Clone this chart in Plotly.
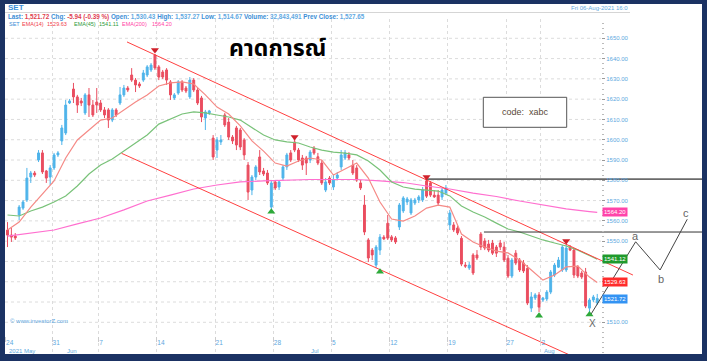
import plotly.graph_objects as go

# ---------------- data ----------------
bars = list(range(153))
open_ = [1555.5,1553.0,1552.5,1562.9,1566.3,1570.3,1581.6,1583.6,1590.0,1593.5,
         1584.6,1581.6,1586.1,1592.5,1599.4,1603.3,1618.1,1625.0,1621.1,1619.1,
         1613.2,1622.1,1617.1,1618.6,1618.1,1614.7,1614.7,1609.7,1614.7,1618.1,
         1622.1,1625.5,1631.9,1629.4,1627.5,1629.4,1631.9,1634.4,1641.8,1635.9,
         1633.4,1634.4,1628.5,1620.6,1623.0,1628.5,1625.5,1621.1,1629.4,1624.5,
         1620.6,1610.7,1613.2,1600.8,1594.9,1598.9,1612.2,1608.7,1601.3,1605.8,
         1604.8,1599.9,1587.5,1575.2,1581.6,1591.5,1584.6,1583.6,1566.8,1579.2,
         1576.7,1581.1,1586.6,1593.5,1598.9,1594.9,1591.0,1591.0,1590.0,1595.8,
         1591.6,1588.5,1575.2,1581.1,1576.7,1581.1,1586.6,1591.0,1592.5,1587.5,
         1586.1,1578.7,1567.8,1550.6,1545.6,1538.2,1545.6,1552.0,1558.8,1552.1,
         1551.6,1557.0,1564.9,1569.3,1563.9,1568.8,1570.3,1570.3,1579.7,1578.7,
         1572.7,1572.7,1571.8,1573.7,1558.0,1558.0,1556.5,1551.4,1538.2,1536.8,
         1543.2,1543.2,1553.5,1550.1,1548.6,1549.1,1547.1,1549.1,1547.1,1541.6,
         1532.8,1544.1,1540.7,1539.2,1536.6,1517.0,1522.0,1523.5,1521.0,1521.5,
         1524.9,1533.3,1537.2,1535.8,1535.8,1547.1,1545.6,1537.3,1534.3,1534.8,
         1517.0,1521.0,1519.5]
high = [1559.4,1556.5,1554.0,1567.8,1570.3,1586.1,1584.6,1584.6,1594.9,1594.9,
        1585.1,1587.5,1593.5,1594.4,1607.3,1619.6,1620.1,1628.0,1622.1,1620.6,
        1623.0,1625.5,1619.6,1625.5,1619.6,1616.1,1615.6,1615.6,1615.6,1626.0,
        1627.0,1626.5,1635.3,1630.4,1628.5,1634.4,1636.8,1637.8,1642.3,1636.8,
        1634.4,1635.3,1629.4,1623.0,1629.4,1629.4,1626.5,1630.9,1630.4,1625.5,
        1621.6,1614.7,1614.7,1602.3,1601.3,1602.3,1613.2,1610.7,1602.3,1606.8,
        1605.8,1600.8,1589.0,1582.6,1587.5,1594.9,1586.1,1585.1,1580.1,1580.1,
        1580.1,1587.5,1593.5,1594.9,1599.9,1595.9,1592.5,1592.0,1594.9,1596.9,
        1593.5,1590.0,1581.1,1582.1,1582.6,1584.1,1594.9,1594.9,1593.9,1590.0,
        1587.5,1580.1,1572.7,1551.5,1546.6,1548.1,1553.5,1553.0,1562.9,1553.0,
        1552.5,1568.8,1572.2,1571.8,1571.3,1571.3,1572.7,1576.7,1580.6,1579.7,
        1575.2,1575.2,1576.2,1577.7,1565.4,1559.4,1557.5,1552.5,1539.7,1539.7,
        1544.1,1545.6,1554.5,1551.5,1550.6,1550.6,1548.1,1550.6,1549.6,1543.2,
        1541.7,1545.6,1541.7,1540.7,1538.2,1524.9,1524.4,1524.9,1522.5,1525.9,
        1535.8,1539.2,1542.2,1548.1,1549.1,1548.1,1546.6,1538.2,1535.3,1536.8,
        1521.9,1523.5,1524.0]
low = [1547.1,1549.6,1550.6,1560.4,1565.4,1569.3,1578.7,1581.6,1589.0,1583.1,
       1578.7,1577.7,1585.1,1591.5,1597.4,1602.3,1617.6,1618.1,1613.2,1616.6,
       1612.2,1611.2,1611.2,1613.2,1613.7,1610.7,1605.8,1608.7,1611.2,1617.1,
       1621.1,1623.5,1628.5,1623.5,1625.5,1628.5,1630.9,1633.4,1634.4,1629.4,
       1629.9,1627.0,1619.6,1619.6,1622.1,1623.5,1623.0,1620.1,1623.5,1617.1,
       1608.7,1604.8,1612.2,1590.0,1591.0,1597.4,1606.3,1599.9,1597.9,1594.9,
       1594.9,1590.0,1570.3,1572.7,1580.1,1582.6,1582.1,1577.7,1565.4,1575.2,
       1575.2,1580.1,1585.1,1589.0,1593.9,1589.0,1585.1,1582.6,1588.5,1592.5,
       1587.5,1577.7,1574.2,1577.7,1575.2,1580.1,1585.1,1590.0,1590.0,1582.6,
       1579.2,1575.2,1553.0,1539.7,1540.7,1536.8,1543.2,1550.6,1550.6,1549.6,
       1548.6,1555.5,1563.9,1567.8,1562.9,1567.8,1568.8,1569.3,1571.3,1571.8,
       1571.3,1567.8,1570.3,1572.7,1555.5,1554.5,1553.0,1537.7,1536.8,1535.8,
       1533.3,1540.7,1545.6,1545.6,1544.6,1543.2,1542.2,1545.6,1539.7,1531.8,
       1531.8,1538.2,1534.8,1534.3,1518.5,1515.1,1521.0,1515.1,1520.0,1520.5,
       1523.9,1532.3,1536.8,1534.8,1534.8,1545.1,1531.8,1531.8,1531.3,1517.0,
       1514.67,1520.0,1518.5]
close = [1553.0,1552.0,1551.6,1566.8,1569.3,1581.1,1583.6,1582.6,1593.5,1584.1,
         1581.1,1586.1,1592.5,1593.5,1605.8,1617.1,1619.1,1621.1,1617.1,1618.1,
         1622.1,1617.1,1612.2,1617.1,1614.7,1612.2,1609.7,1614.7,1612.2,1622.1,
         1625.5,1624.5,1629.4,1627.0,1626.5,1632.9,1635.9,1636.8,1635.4,1630.9,
         1630.9,1629.4,1622.1,1622.1,1628.5,1624.5,1624.0,1629.4,1624.5,1618.1,
         1611.2,1613.7,1614.2,1591.5,1599.9,1599.9,1607.3,1601.3,1599.4,1597.4,
         1596.4,1592.5,1574.2,1581.6,1586.6,1584.1,1583.1,1578.7,1578.7,1576.2,
         1579.2,1586.6,1592.5,1590.0,1594.9,1590.0,1587.5,1588.5,1593.9,1593.4,
         1588.5,1578.7,1579.2,1578.7,1580.1,1582.6,1592.5,1593.5,1591.0,1583.6,
         1580.1,1576.2,1554.5,1541.7,1543.2,1547.1,1552.0,1551.1,1551.5,1550.6,
         1549.6,1567.8,1571.3,1570.8,1570.3,1570.3,1571.8,1575.2,1572.2,1572.7,
         1571.8,1568.8,1575.2,1576.2,1563.9,1555.5,1554.0,1538.7,1537.7,1538.2,
         1534.3,1541.7,1547.1,1546.6,1545.6,1544.1,1544.1,1547.1,1540.7,1532.8,
         1540.7,1539.2,1535.8,1535.3,1519.5,1522.5,1523.5,1517.5,1522.0,1524.9,
         1534.8,1538.2,1540.7,1547.1,1546.6,1545.6,1533.3,1532.8,1532.3,1518.0,
         1521.0,1522.5,1521.72]

ema_x = [0,3,6,9,12,15,18,21,24,27,30,33,36,39,42,45,48,51,54,57,60,63,66,69,72,
         75,78,81,84,87,90,93,96,99,102,105,108,111,114,117,120,123,126,129,132,
         135,138,141,144,147,150,152]
ema14 = [1555.5,1559.4,1566.8,1573.2,1579.7,1591.0,1599.9,1604.8,1609.7,1610.7,
         1614.7,1618.6,1622.1,1626.5,1628.0,1628.5,1627.5,1622.1,1616.1,1612.7,
         1606.8,1599.4,1594.4,1588.5,1587.0,1589.5,1591.0,1590.0,1582.6,1585.6,
         1588.5,1581.1,1569.3,1560.9,1559.9,1562.4,1566.3,1567.8,1566.8,1553.5,
         1549.6,1547.1,1545.1,1544.2,1540.7,1535.8,1530.8,1533.3,1537.3,1537.7,
         1532.3,1529.63]
ema45 = [1562.9,1562.4,1564.9,1566.8,1569.3,1572.3,1577.2,1583.1,1587.5,1590.5,
         1594.4,1598.4,1602.3,1607.7,1610.2,1612.7,1613.7,1613.2,1612.2,1611.2,
         1609.7,1605.8,1602.3,1599.9,1598.9,1598.4,1596.4,1594.9,1593.9,1593.4,
         1592.5,1589.5,1585.1,1579.2,1576.7,1575.7,1575.2,1574.7,1572.3,1567.3,
         1564.4,1561.9,1558.9,1556.0,1554.5,1552.5,1550.6,1549.1,1547.6,1545.6,
         1542.7,1541.11]
ema200_x = [0,6,12,18,24,30,36,42,48,54,60,66,72,78,84,90,96,102,108,114,120,126,
            132,138,144,150,152]
ema200 = [1552.5,1554.0,1555.5,1558.5,1561.4,1565.4,1569.8,1572.7,1575.7,1577.7,
          1579.2,1579.7,1580.1,1580.4,1580.4,1580.4,1579.7,1578.9,1577.2,1575.7,
          1573.7,1572.0,1569.8,1567.8,1565.9,1564.6,1564.2]

top_x = [38, 74, 108, 144]
top_y = [1644.2, 1601.3, 1581.6, 1550.1]
bot_x = [68, 96, 137, 150]
bot_y = [1564.5, 1534.9, 1513.2, 1513.9]

chan_up_x = [30.8, 161.2]
chan_up_y = [1648.2, 1533.3]
chan_lo_x = [29.4, 150.0]
chan_lo_y = [1593.3, 1489.5]
hline1_x = [108, 179]
hline1_y = [1580.6, 1580.6]
hline2_x = [122.8, 179]
hline2_y = [1554.5, 1554.5]
wave_x = [150.1, 161.9, 168.2, 175.2]
wave_y = [1513.1, 1549.7, 1535.8, 1560.8]
wave_labels = ["X", "a", "b", "c"]
wave_lab_y = [1509.6, 1552.4, 1531.3, 1564.0]
wave_lab_x = [150.9, 161.9, 168.4, 174.9]

day_bars = [0, 12, 24, 39, 54, 69, 84, 99, 114, 129, 138]
day_text = ["24", "31", "7", "14", "21", "28", "5", "12", "19", "27", "2"]
month_bars = [0, 15, 78, 138]
month_text = ["2021 May", "Jun", "Jul", "Aug"]
y_ticks = [1510, 1520, 1530, 1540, 1550, 1560, 1570, 1580, 1590, 1600,
           1610, 1620, 1630, 1640, 1650]
hidden_ticks = [1520, 1530, 1540]   # covered by the price tags in the picture
tag_vals = [1564.20, 1541.12, 1529.63, 1521.72]
tag_cols = ["#ff44aa", "#1f9a2c", "#ff2b2b", "#3393f3"]

# ---------------- styling ----------------
FONT = "Liberation Sans, Arial, sans-serif"
LBLUE = "#5ea8e0"
NAVY = "#1b3263"
UP = "#4fb4ea"
DOWN = "#ea4e60"
YPOS = 0.8551

fig = go.Figure()
fig.add_trace(go.Scatter(x=ema200_x, y=ema200, mode="lines",
                         line=dict(color="#ff6fcf", width=1.2), hoverinfo="skip"))
fig.add_trace(go.Scatter(x=ema_x, y=ema45, mode="lines",
                         line=dict(color="#79c279", width=1.2), hoverinfo="skip"))
fig.add_trace(go.Scatter(x=ema_x, y=ema14, mode="lines",
                         line=dict(color="#f58a86", width=1.2), hoverinfo="skip"))
fig.add_trace(go.Candlestick(
    x=bars, open=open_, high=high, low=low, close=close,
    increasing=dict(line=dict(color=UP, width=1), fillcolor=UP),
    decreasing=dict(line=dict(color=DOWN, width=1), fillcolor=DOWN),
    whiskerwidth=0, hoverinfo="skip"))
for xs, ys in [(chan_up_x, chan_up_y), (chan_lo_x, chan_lo_y)]:
    fig.add_trace(go.Scatter(x=xs, y=ys, mode="lines",
                             line=dict(color="#ff4040", width=1), hoverinfo="skip"))
fig.add_trace(go.Scatter(x=hline1_x, y=hline1_y, mode="lines",
                         line=dict(color="#6a6a6a", width=1.6), hoverinfo="skip"))
fig.add_trace(go.Scatter(x=hline2_x, y=hline2_y, mode="lines",
                         line=dict(color="#333333", width=1), hoverinfo="skip"))
fig.add_trace(go.Scatter(x=wave_x, y=wave_y, mode="lines",
                         line=dict(color="#444444", width=1), hoverinfo="skip"))
fig.add_trace(go.Scatter(x=top_x, y=top_y, mode="markers",
                         marker=dict(symbol="triangle-down", size=7, color="#d0202a"),
                         hoverinfo="skip"))
fig.add_trace(go.Scatter(x=bot_x, y=bot_y, mode="markers",
                         marker=dict(symbol="triangle-up", size=7, color="#2eaa3a"),
                         hoverinfo="skip"))

shapes = []
shapes.append(dict(type="rect", xref="paper", yref="paper", x0=0, x1=1, y0=1,
                   y1=1 + 15 / 335, fillcolor="white", line=dict(width=0), layer="below"))
shapes.append(dict(type="line", xref="paper", yref="paper", x0=0, x1=(630 - 5) / 697,
                   y0=1 + 6.5 / 335, y1=1 + 6.5 / 335, line=dict(color="#d5d5d5", width=1)))
for v in y_ticks:
    shapes.append(dict(type="line", xref="paper", yref="y", x0=0, x1=YPOS, y0=v, y1=v,
                       line=dict(color="#dcdcdc", width=1, dash="dot"), layer="below"))
shapes.append(dict(type="rect", xref="paper", yref="paper",
                   x0=(483.3 - 5) / 697, x1=(566.7 - 5) / 697,
                   y0=(354 - 127.3) / 335, y1=(354 - 97.3) / 335,
                   fillcolor="white", line=dict(color="#555555", width=1)))

ann = []
ann.append(dict(xref="paper", yref="paper", x=0.0015, y=1 + (19 - 8) / 335,
                xanchor="left", yanchor="middle", showarrow=False,
                text="<b>SET</b>", font=dict(family=FONT, size=8, color="#3b8fd8")))
lab = "#3b8ed6"
val = "#62a9e2"
red = "#e0404f"
row2 = (f"<b><span style='color:{lab}'>Last:</span> <span style='color:{red}'>1,521.72</span> "
        f"<span style='color:{lab}'>Chg:</span> <span style='color:{red}'>-5.94 (-0.39 %)</span> "
        f"<span style='color:{lab}'>Open:</span> <span style='color:{val}'>1,530.43</span> "
        f"<span style='color:{lab}'>High:</span> <span style='color:{val}'>1,537.27</span> "
        f"<span style='color:{lab}'>Low:</span> <span style='color:{val}'>1,514.67</span> "
        f"<span style='color:{lab}'>Volume:</span> <span style='color:{val}'>32,843,491</span> "
        f"<span style='color:{lab}'>Prev Close:</span> <span style='color:{val}'>1,527.65</span></b>")
ann.append(dict(xref="paper", yref="paper", x=0.0015, y=1 + (19 - 16.5) / 335,
                xanchor="left", yanchor="middle", showarrow=False, text=row2,
                font=dict(family=FONT, size=6.3, color=lab)))
row3 = [("SET", "#3b8ed6", 7), ("EMA(14)", "#f0404a", 20), ("1529.63", "#f0404a", 45),
        ("EMA(45)", "#2e9a3a", 72), ("1541.11", "#2e9a3a", 97),
        ("EMA(200)", "#ff3fa6", 120), ("1564.20", "#ff3fa6", 150)]
for t, c, px in row3:
    ann.append(dict(xref="paper", yref="paper", x=(px - 5) / 697, y=(354 - 24) / 335,
                    xanchor="left", yanchor="middle", showarrow=False, text=t,
                    font=dict(family=FONT, size=5.5, color=c)))
ann.append(dict(xref="paper", yref="paper", x=(630 - 5) / 697, y=1 + (19 - 8) / 335,
                xanchor="right", yanchor="middle", showarrow=False,
                text="Fri 06-Aug-2021 16:0", font=dict(family=FONT, size=6, color=LBLUE)))
ann.append(dict(xref="paper", yref="paper", x=(8 - 5) / 697, y=(354 - 321) / 335,
                xanchor="left", yanchor="middle", showarrow=False,
                text="© www.investorZ.com", font=dict(family=FONT, size=6, color=LBLUE)))
for b, t in zip(month_bars, month_text):
    ann.append(dict(xref="x", yref="paper", x=b - 0.5, y=(354 - 351) / 335,
                    xanchor="left", yanchor="middle", showarrow=False, xshift=1,
                    text=t, font=dict(family=FONT, size=6, color=LBLUE)))
for v, c in zip(tag_vals, tag_cols):
    ann.append(dict(xref="paper", yref="y", x=YPOS + 0.001, y=v, xanchor="left",
                    yanchor="middle", showarrow=False, text=f"{v:.2f}", bgcolor=c,
                    borderpad=1, font=dict(family=FONT, size=6, color="white")))
for x, y, t in zip(wave_lab_x, wave_lab_y, wave_labels):
    ann.append(dict(xref="x", yref="y", x=x, y=y, showarrow=False, text=t,
                    xanchor="center", yanchor="middle",
                    font=dict(family=FONT, size=11 if t != "X" else 10, color="#666666")))
ann.append(dict(xref="paper", yref="paper", x=(277 - 5) / 697, y=(354 - 49) / 335,
                xanchor="center", yanchor="middle",
                showarrow=False, text="<b>คาดการณ์</b>",
                font=dict(family="Noto Sans Thai, Tahoma, sans-serif", size=23, color="black")))
ann.append(dict(xref="paper", yref="paper", x=(525 - 5) / 697, y=(354 - 112) / 335,
                xanchor="center", yanchor="middle",
                showarrow=False, text="code:  xabc",
                font=dict(family=FONT, size=9, color="#5a4a3a")))

fig.update_layout(
    width=707, height=361,
    margin=dict(l=5, r=5, t=19, b=7, pad=0),
    paper_bgcolor=NAVY, plot_bgcolor="white",
    showlegend=False, shapes=shapes, annotations=ann, hovermode=False,
    xaxis=dict(range=[-0.644, 179.0], rangeslider=dict(visible=False),
               tickmode="array", tickvals=[b - 0.5 for b in day_bars], ticktext=day_text,
               showgrid=True, gridcolor="#dcdcdc", griddash="dot", gridwidth=1,
               ticks="outside", ticklen=5, tickcolor="#cccccc",
               ticklabelposition="outside right",
               tickfont=dict(family=FONT, size=6.5, color=LBLUE),
               anchor="free", position=(354 - 336) / 335,
               showline=False, zeroline=False, fixedrange=True),
    yaxis=dict(range=[1494.38, 1659.51], side="right", anchor="free", position=YPOS,
               tickmode="array", tickvals=y_ticks,
               ticktext=["" if v in hidden_ticks else f"{v:.2f}" for v in y_ticks],
               ticks="outside", ticklen=3, tickcolor="#999999",
               tickfont=dict(family=FONT, size=6, color=LBLUE),
               minor=dict(ticks="outside", ticklen=2, tickcolor="#bbbbbb", dtick=2.5,
                          tick0=1500, showgrid=False),
               showgrid=False, zeroline=False, showline=False, fixedrange=True),
)

fig.write_html("out.html", config={"displayModeBar": False, "staticPlot": True},
               post_script="document.body.style.margin='0';document.body.style.padding='0';")
